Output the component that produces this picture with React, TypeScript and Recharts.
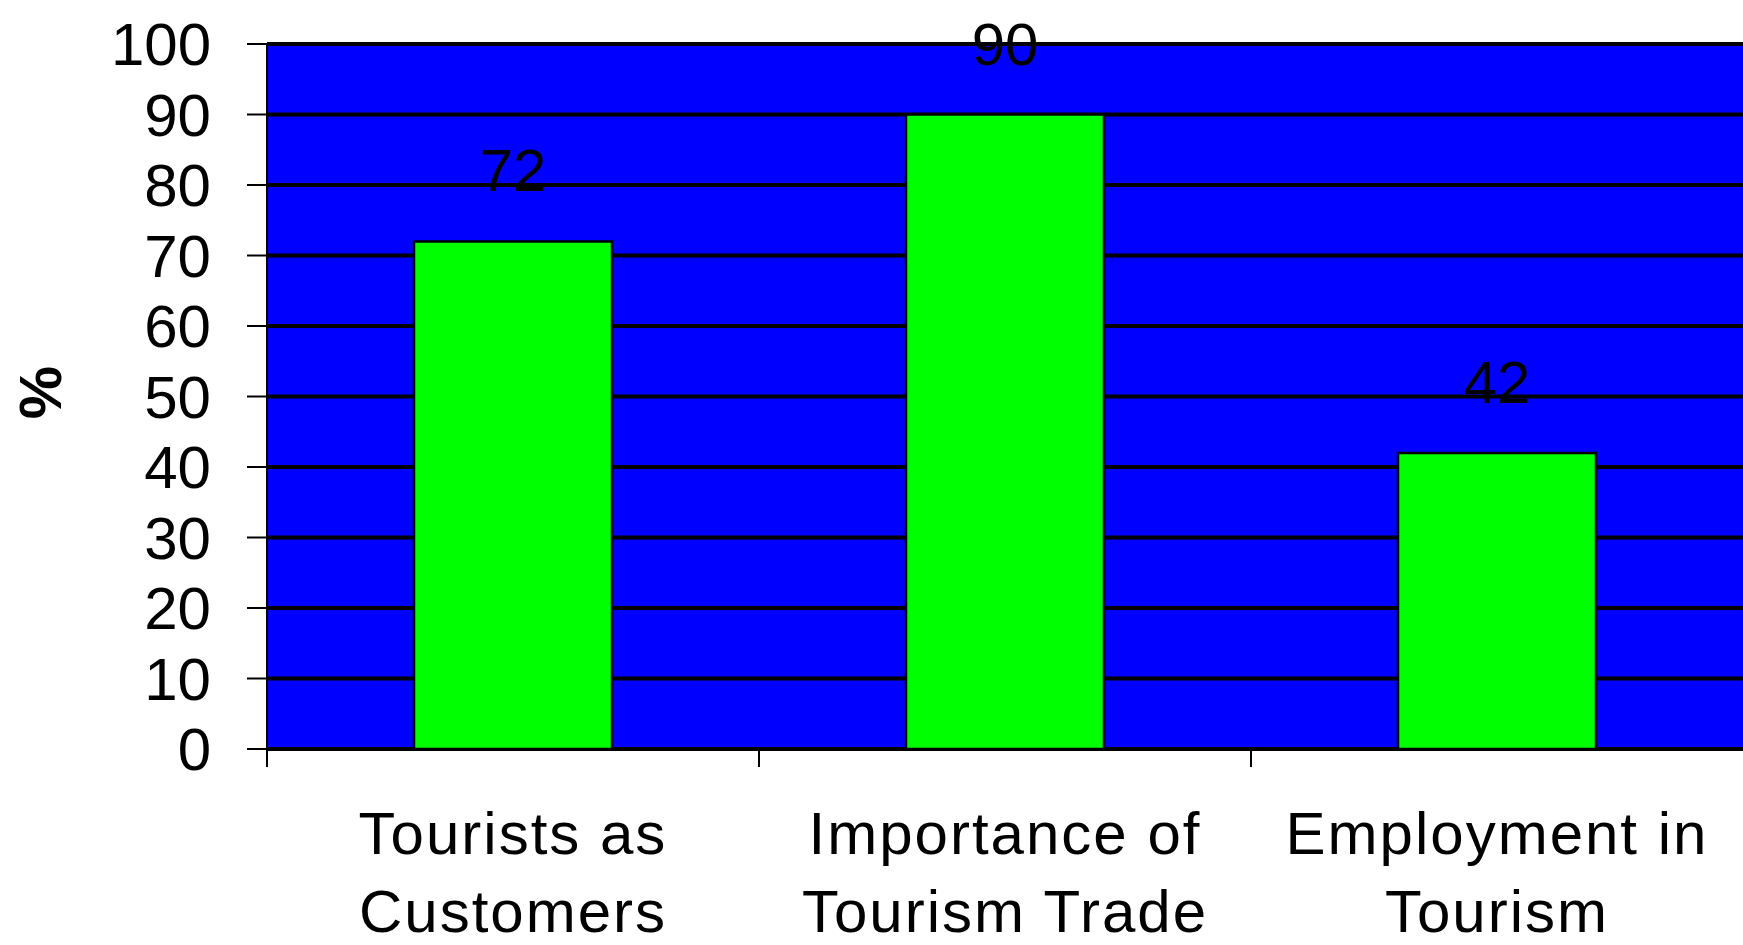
import { BarChart, Bar, XAxis, YAxis, CartesianGrid, LabelList, Label } from 'recharts';

const categories = ['Tourists as\nCustomers', 'Importance of\nTourism Trade', 'Employment in\nTourism'];
const percentValues = [72, 90, 42];
const yTicks = [0, 10, 20, 30, 40, 50, 60, 70, 80, 90, 100];

const data = categories.map((name, i) => ({ name, value: percentValues[i] }));

const WIDTH = 1743;
const HEIGHT = 945;
const Y_AXIS_WIDTH = 267;
const BAND = (WIDTH - Y_AXIS_WIDTH) / categories.length;
const FONT = '"Liberation Sans", Arial, sans-serif';

// category labels: tick mark sits on the band boundary, text in the band centre
function CategoryTick(props: any) {
  const { x, y, payload } = props;
  const lines = String(payload.value).split('\n');
  return (
    <g>
      <line x1={x - BAND / 2} x2={x - BAND / 2} y1={y} y2={y + 18} stroke="#000" strokeWidth={2} />
      {lines.map((line, i) => (
        <text
          key={i}
          x={x}
          y={y + 105 + i * 78}
          textAnchor="middle"
          fill="#000"
          fontSize={60}
          fontFamily={FONT}
          letterSpacing={2}
        >
          {line}
        </text>
      ))}
    </g>
  );
}

function PercentLabel(props: any) {
  const { viewBox } = props;
  const cx = viewBox.x + 40;
  const cy = viewBox.y + viewBox.height / 2 - 4;
  return (
    <text
      x={cx}
      y={cy}
      transform={`rotate(-90 ${cx} ${cy})`}
      textAnchor="middle"
      dominantBaseline="central"
      fontSize={60}
      fontWeight="bold"
      fontFamily={FONT}
      fill="#000"
    >
      %
    </text>
  );
}

export default function App() {
  return (
    <div style={{ position: 'absolute', left: 0, top: 0, background: '#fff' }}>
      <BarChart width={WIDTH} height={HEIGHT} data={data} margin={{ top: 44, right: 0, bottom: 0, left: 0 }}>
        <CartesianGrid vertical={false} stroke="#000" strokeWidth={4} fill="#0000ff" fillOpacity={1} />
        <XAxis
          dataKey="name"
          interval={0}
          height={196}
          tickLine={false}
          tickSize={0}
          tickMargin={0}
          axisLine={{ stroke: '#000', strokeWidth: 2 }}
          tick={CategoryTick}
        />
        <YAxis
          width={Y_AXIS_WIDTH}
          domain={[0, 100]}
          ticks={yTicks}
          interval={0}
          tickSize={20}
          tickMargin={36}
          axisLine={{ stroke: '#000', strokeWidth: 2 }}
          tickLine={{ stroke: '#000', strokeWidth: 2 }}
          tick={{ fill: '#000', fontSize: 60, fontFamily: FONT }}
        >
          <Label content={PercentLabel} />
        </YAxis>
        <Bar dataKey="value" fill="#00ff00" stroke="#000" strokeWidth={2.5} barSize={198} isAnimationActive={false}>
          <LabelList dataKey="value" position="top" offset={50} fill="#000" fontSize={60} fontFamily={FONT} />
        </Bar>
      </BarChart>
    </div>
  );
}
